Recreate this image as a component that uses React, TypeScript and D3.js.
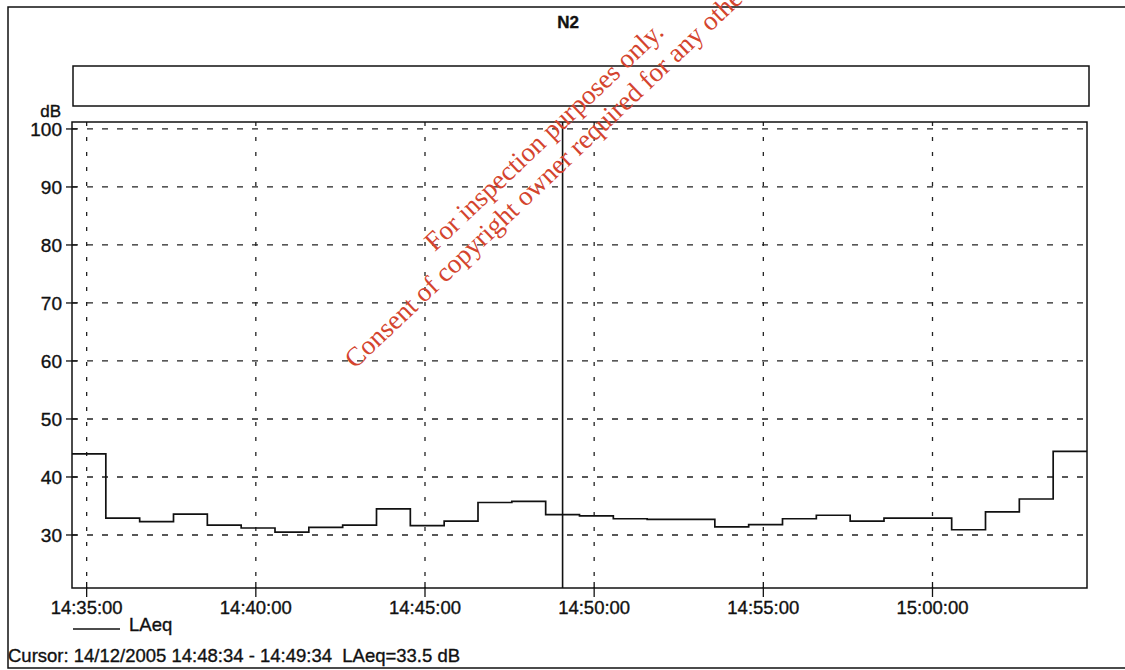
import * as d3 from "d3"
import React, { useRef, useEffect } from "react"

// one LAeq value per minute, starting 14:34:34
const startTimes = [
    "14:34:34", "14:35:34", "14:36:34", "14:37:34", "14:38:34", "14:39:34",
    "14:40:34", "14:41:34", "14:42:34", "14:43:34", "14:44:34", "14:45:34",
    "14:46:34", "14:47:34", "14:48:34", "14:49:34", "14:50:34", "14:51:34",
    "14:52:34", "14:53:34", "14:54:34", "14:55:34", "14:56:34", "14:57:34",
    "14:58:34", "14:59:34", "15:00:34", "15:01:34", "15:02:34", "15:03:34",
]
const endTime = "15:04:34"
const laeq = [
    44.0, 32.9, 32.3, 33.6, 31.7, 31.2, 30.5, 31.3, 31.7, 34.5,
    31.6, 32.4, 35.6, 35.8, 33.5, 33.3, 32.8, 32.7, 32.7, 31.4,
    31.8, 32.8, 33.4, 32.4, 32.9, 32.9, 30.9, 34.0, 36.2, 44.4,
]
const yTicks = [30, 40, 50, 60, 70, 80, 90, 100]
const xTickLabels = ["14:35:00", "14:40:00", "14:45:00", "14:50:00", "14:55:00", "15:00:00"]
const cursorStart = "14:48:34"
const cursorEnd = "14:49:34"
const cursorText = "Cursor: 14/12/2005 14:48:34 - 14:49:34  LAeq=33.5 dB"
const watermark = ["For inspection purposes only.", "Consent of copyright owner required for any other use."]

const parse = d3.timeParse("%Y-%m-%d %H:%M:%S")
const t = (s) => parse("2005-12-14 " + s)

function App() {
    const ref = useRef()

    useEffect(() => {
        draw()
    }, [])

    const draw = () => {
        const svg = d3.select(ref.current)
        svg.selectAll("*").remove()
        const font = "'Liberation Sans', Arial, sans-serif"
        const ink = "#111"

        const left = 72, right = 1087, top = 122, bottom = 588

        const x = d3.scaleTime()
            .domain([t(startTimes[0]), t(endTime)])
            .range([left, right])
        const y = d3.scaleLinear()
            .domain([20.86, 101.2])
            .range([bottom, top])

        // small helper so all labels look the same (slightly heavy, like the scan)
        const label = (sel, size = 18.5) => sel
            .attr("font-family", font).attr("font-size", size)
            .attr("fill", ink).attr("stroke", ink).attr("stroke-width", 0.35)
            .style("white-space", "pre")

        // page frame
        svg.append("path")
            .attr("d", "M1125,7 L8,7 L8,668 L1125,668")
            .attr("fill", "none").attr("stroke", ink).attr("stroke-width", 1.5)

        svg.append("text")
            .attr("x", 568).attr("y", 28)
            .attr("text-anchor", "middle")
            .call(label, 17)
            .attr("font-weight", "bold")
            .text("N2")

        // empty header box
        svg.append("rect")
            .attr("x", 73).attr("y", 66).attr("width", 1016).attr("height", 40)
            .attr("fill", "none").attr("stroke", ink).attr("stroke-width", 1.5)

        // grid
        svg.append("g").selectAll("line")
            .data(yTicks)
            .enter().append("line")
            .attr("x1", left).attr("x2", right)
            .attr("y1", d => y(d)).attr("y2", d => y(d))
            .attr("stroke", "#222").attr("stroke-width", 1.3)
            .attr("stroke-dasharray", "6,9")

        const xTicks = xTickLabels.map(t)
        svg.append("g").selectAll("line")
            .data(xTicks)
            .enter().append("line")
            .attr("x1", d => x(d)).attr("x2", d => x(d))
            .attr("y1", top).attr("y2", bottom)
            .attr("stroke", "#222").attr("stroke-width", 1.3)
            .attr("stroke-dasharray", "4,11")

        // plot frame
        svg.append("rect")
            .attr("x", left).attr("y", top).attr("width", right - left).attr("height", bottom - top)
            .attr("fill", "none").attr("stroke", ink).attr("stroke-width", 1.5)

        // y ticks + labels
        const yg = svg.append("g")
        yg.selectAll("line")
            .data(yTicks)
            .enter().append("line")
            .attr("x1", left - 6).attr("x2", left + 5)
            .attr("y1", d => y(d)).attr("y2", d => y(d))
            .attr("stroke", ink).attr("stroke-width", 1.3)
        yg.selectAll("text")
            .data(yTicks)
            .enter().append("text")
            .attr("x", left - 10).attr("y", d => y(d) + 7)
            .attr("text-anchor", "end")
            .call(label, 19)
            .text(d => d)
        svg.append("text")
            .attr("x", 61).attr("y", 117)
            .attr("text-anchor", "end")
            .call(label, 17)
            .text("dB")

        // x ticks + labels
        const xg = svg.append("g")
        xg.selectAll("line")
            .data(xTicks)
            .enter().append("line")
            .attr("x1", d => x(d)).attr("x2", d => x(d))
            .attr("y1", bottom - 6).attr("y2", bottom + 9)
            .attr("stroke", ink).attr("stroke-width", 1.3)
        xg.selectAll("text")
            .data(xTickLabels)
            .enter().append("text")
            .attr("x", (d, i) => x(xTicks[i])).attr("y", 614)
            .attr("text-anchor", "middle")
            .call(label)
            .text(d => d)

        // LAeq step line
        const pts = startTimes.map((s, i) => [t(s), laeq[i]])
        pts.push([t(endTime), laeq[laeq.length - 1]])
        const line = d3.line()
            .x(d => x(d[0]))
            .y(d => y(d[1]))
            .curve(d3.curveStepAfter)
        svg.append("path")
            .datum(pts)
            .attr("d", line)
            .attr("fill", "none").attr("stroke", ink).attr("stroke-width", 1.7)

        // cursor at the middle of the selected interval
        const cx = (x(t(cursorStart)) + x(t(cursorEnd))) / 2
        svg.append("line")
            .attr("x1", cx).attr("x2", cx).attr("y1", top).attr("y2", bottom)
            .attr("stroke", ink).attr("stroke-width", 1.6)

        // legend
        svg.append("line")
            .attr("x1", 73).attr("x2", 120).attr("y1", 629).attr("y2", 629)
            .attr("stroke", ink).attr("stroke-width", 1.3)
        svg.append("text")
            .attr("x", 129).attr("y", 631)
            .call(label)
            .text("LAeq")

        svg.append("text")
            .attr("x", 8).attr("y", 662)
            .call(label)
            .text(cursorText)

        // red stamp across the chart
        const wm = svg.append("g")
            .attr("transform", "translate(550,143) rotate(-43.5)")
        wm.selectAll("text")
            .data(watermark)
            .enter().append("text")
            .attr("x", 0).attr("y", (d, i) => i * 30)
            .attr("text-anchor", "middle")
            .attr("font-family", "'Liberation Serif', 'Times New Roman', serif")
            .attr("font-size", 27)
            .attr("fill", "#d4442e")
            .text(d => d)
    }

    return (
        <svg ref={ref} width={1125} height={670}
            style={{ position: "absolute", left: 0, top: 0, background: "#fff" }}>
        </svg>
    )
}

export default App
